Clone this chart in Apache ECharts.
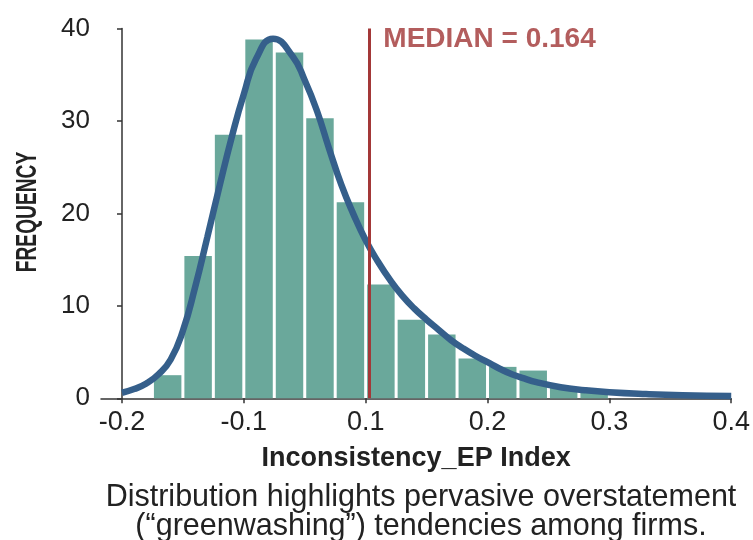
<!DOCTYPE html>
<html>
<head>
<meta charset="utf-8">
<script src="https://cdn.jsdelivr.net/npm/echarts@6/dist/echarts.min.js"></script>
<style>
  html, body { margin: 0; padding: 0; background: #fff; }
  #chart { width: 753px; height: 540px; }
</style>
</head>
<body>
<div id="chart"></div>
<script>
// x is in tick-index units: 0 -> "-0.2", 1 -> "-0.1", 2 -> "0.1" ... (the axis skips 0)
const tickPositions = [0, 1, 2, 3, 4, 5];
const tickLabels = ['-0.2', '-0.1', '0.1', '0.2', '0.3', '0.4'];

// histogram bins
const binStarts = [0.25, 0.5, 0.75, 1.0, 1.25, 1.5, 1.75, 2.0, 2.25, 2.5, 2.75, 3.0, 3.25, 3.5, 3.75];
const binWidth = 0.25;
const frequencies = [2.5, 15.4, 28.5, 38.8, 37.4, 30.3, 21.2, 12.3, 8.5, 6.9, 4.3, 3.4, 3.0, 1.2, 0.7];

// fitted density curve
const curveX = [0, 0.1, 0.2, 0.3, 0.4, 0.5, 0.6, 0.7, 0.8, 0.9, 1.0, 1.1, 1.24, 1.4, 1.5, 1.6, 1.7,
  1.8, 1.9, 2.0, 2.1, 2.2, 2.3, 2.4, 2.5, 2.6, 2.7, 2.8, 2.9, 3.0, 3.1, 3.2, 3.3, 3.4, 3.6, 3.8, 4.0, 4.3, 4.6, 5.0];
const curveY = [0.6, 1.0, 1.6, 2.6, 4.2, 7.3, 12.0, 17.4, 22.9, 28.2, 32.9, 36.7, 38.9, 37.0, 34.4, 31.1, 27.0,
  23.1, 19.9, 17.1, 14.8, 12.8, 11.1, 9.7, 8.5, 7.4, 6.3, 5.4, 4.6, 3.9, 3.2, 2.6, 2.15, 1.75, 1.2, 0.88, 0.66, 0.46, 0.33, 0.25];

const medianPos = 2.03;
const medianText = 'MEDIAN = 0.164';

const captionLines = ['Distribution highlights pervasive overstatement', '(\u201Cgreenwashing\u201D) tendencies among firms.'];

const font = '"Liberation Sans", Arial, sans-serif';
const chart = echarts.init(document.getElementById('chart'));

const option = {
  animation: false,
  grid: { left: 101, right: 21.5, top: 28.5, bottom: 141.7 },
  xAxis: {
    type: 'value',
    min: -0.172,
    max: 5,
    name: 'Inconsistency_EP Index',
    nameLocation: 'middle',
    nameGap: 47,
    nameTextStyle: { fontFamily: font, fontSize: 27, fontWeight: 'bold', color: '#222' },
    axisLine: { show: true, lineStyle: { color: '#333', width: 1.5 } },
    axisTick: { show: true, length: 5, customValues: tickPositions, lineStyle: { color: '#333', width: 1.5 } },
    axisLabel: {
      customValues: tickPositions,
      margin: 11,
      fontFamily: font,
      fontSize: 27,
      color: '#222',
      formatter: (v) => tickLabels[Math.round(v)]
    },
    splitLine: { show: false }
  },
  yAxis: {
    type: 'value',
    min: 0,
    max: 40,
    interval: 10,
    axisLine: { show: true, lineStyle: { color: '#333', width: 1.5 } },
    axisTick: { show: true, length: 5, lineStyle: { color: '#333', width: 1.5 } },
    axisLabel: { margin: 11, fontFamily: font, fontSize: 26, color: '#222' },
    splitLine: { show: false }
  },
  series: [
    {
      // histogram bars
      type: 'custom',
      z: 1,
      data: binStarts.map((s, i) => [s, s + binWidth, frequencies[i]]),
      encode: { x: [0, 1], y: 2 },
      renderItem: function (params, api) {
        const top = api.coord([api.value(0), api.value(2)]);
        const bottom = api.coord([api.value(1), 0]);
        return {
          type: 'rect',
          shape: { x: top[0] + 1.5, y: top[1], width: bottom[0] - top[0] - 3, height: bottom[1] - top[1] },
          style: { fill: '#6aa89b' }
        };
      }
    },
    {
      // median line + label
      type: 'scatter',
      z: 2,
      symbolSize: 0,
      data: [[medianPos, 40]],
      label: {
        show: true,
        position: 'right',
        distance: 14,
        offset: [0, 10.5],
        formatter: medianText,
        fontFamily: font,
        fontSize: 28,
        fontWeight: 'bold',
        color: '#a03535'
      },
      markLine: {
        silent: true,
        symbol: ['none', 'none'],
        label: { show: false },
        lineStyle: { color: '#a33838', width: 3, type: 'solid' },
        data: [{ xAxis: medianPos }]
      }
    },
    {
      // density curve
      type: 'line',
      z: 3,
      smooth: true,
      showSymbol: false,
      data: curveX.map((x, i) => [x, curveY[i]]),
      lineStyle: { color: '#355f8b', width: 6.5 }
    }
  ],
  graphic: [
    {
      type: 'text',
      x: 28,
      y: 212,
      rotation: Math.PI / 2,
      scaleX: 0.64,
      style: {
        text: 'FREQUENCY',
        font: 'bold 30px ' + font,
        fill: '#222',
        textAlign: 'center',
        textVerticalAlign: 'middle'
      }
    },
    {
      type: 'text',
      x: 421,
      y: 498,
      style: { text: captionLines[0], font: '30.5px ' + font, fill: '#222', textAlign: 'center', textVerticalAlign: 'middle' }
    },
    {
      type: 'text',
      x: 421,
      y: 527,
      style: { text: captionLines[1], font: '30.5px ' + font, fill: '#222', textAlign: 'center', textVerticalAlign: 'middle' }
    }
  ]
};
chart.setOption(option);
</script>
</body>
</html>
